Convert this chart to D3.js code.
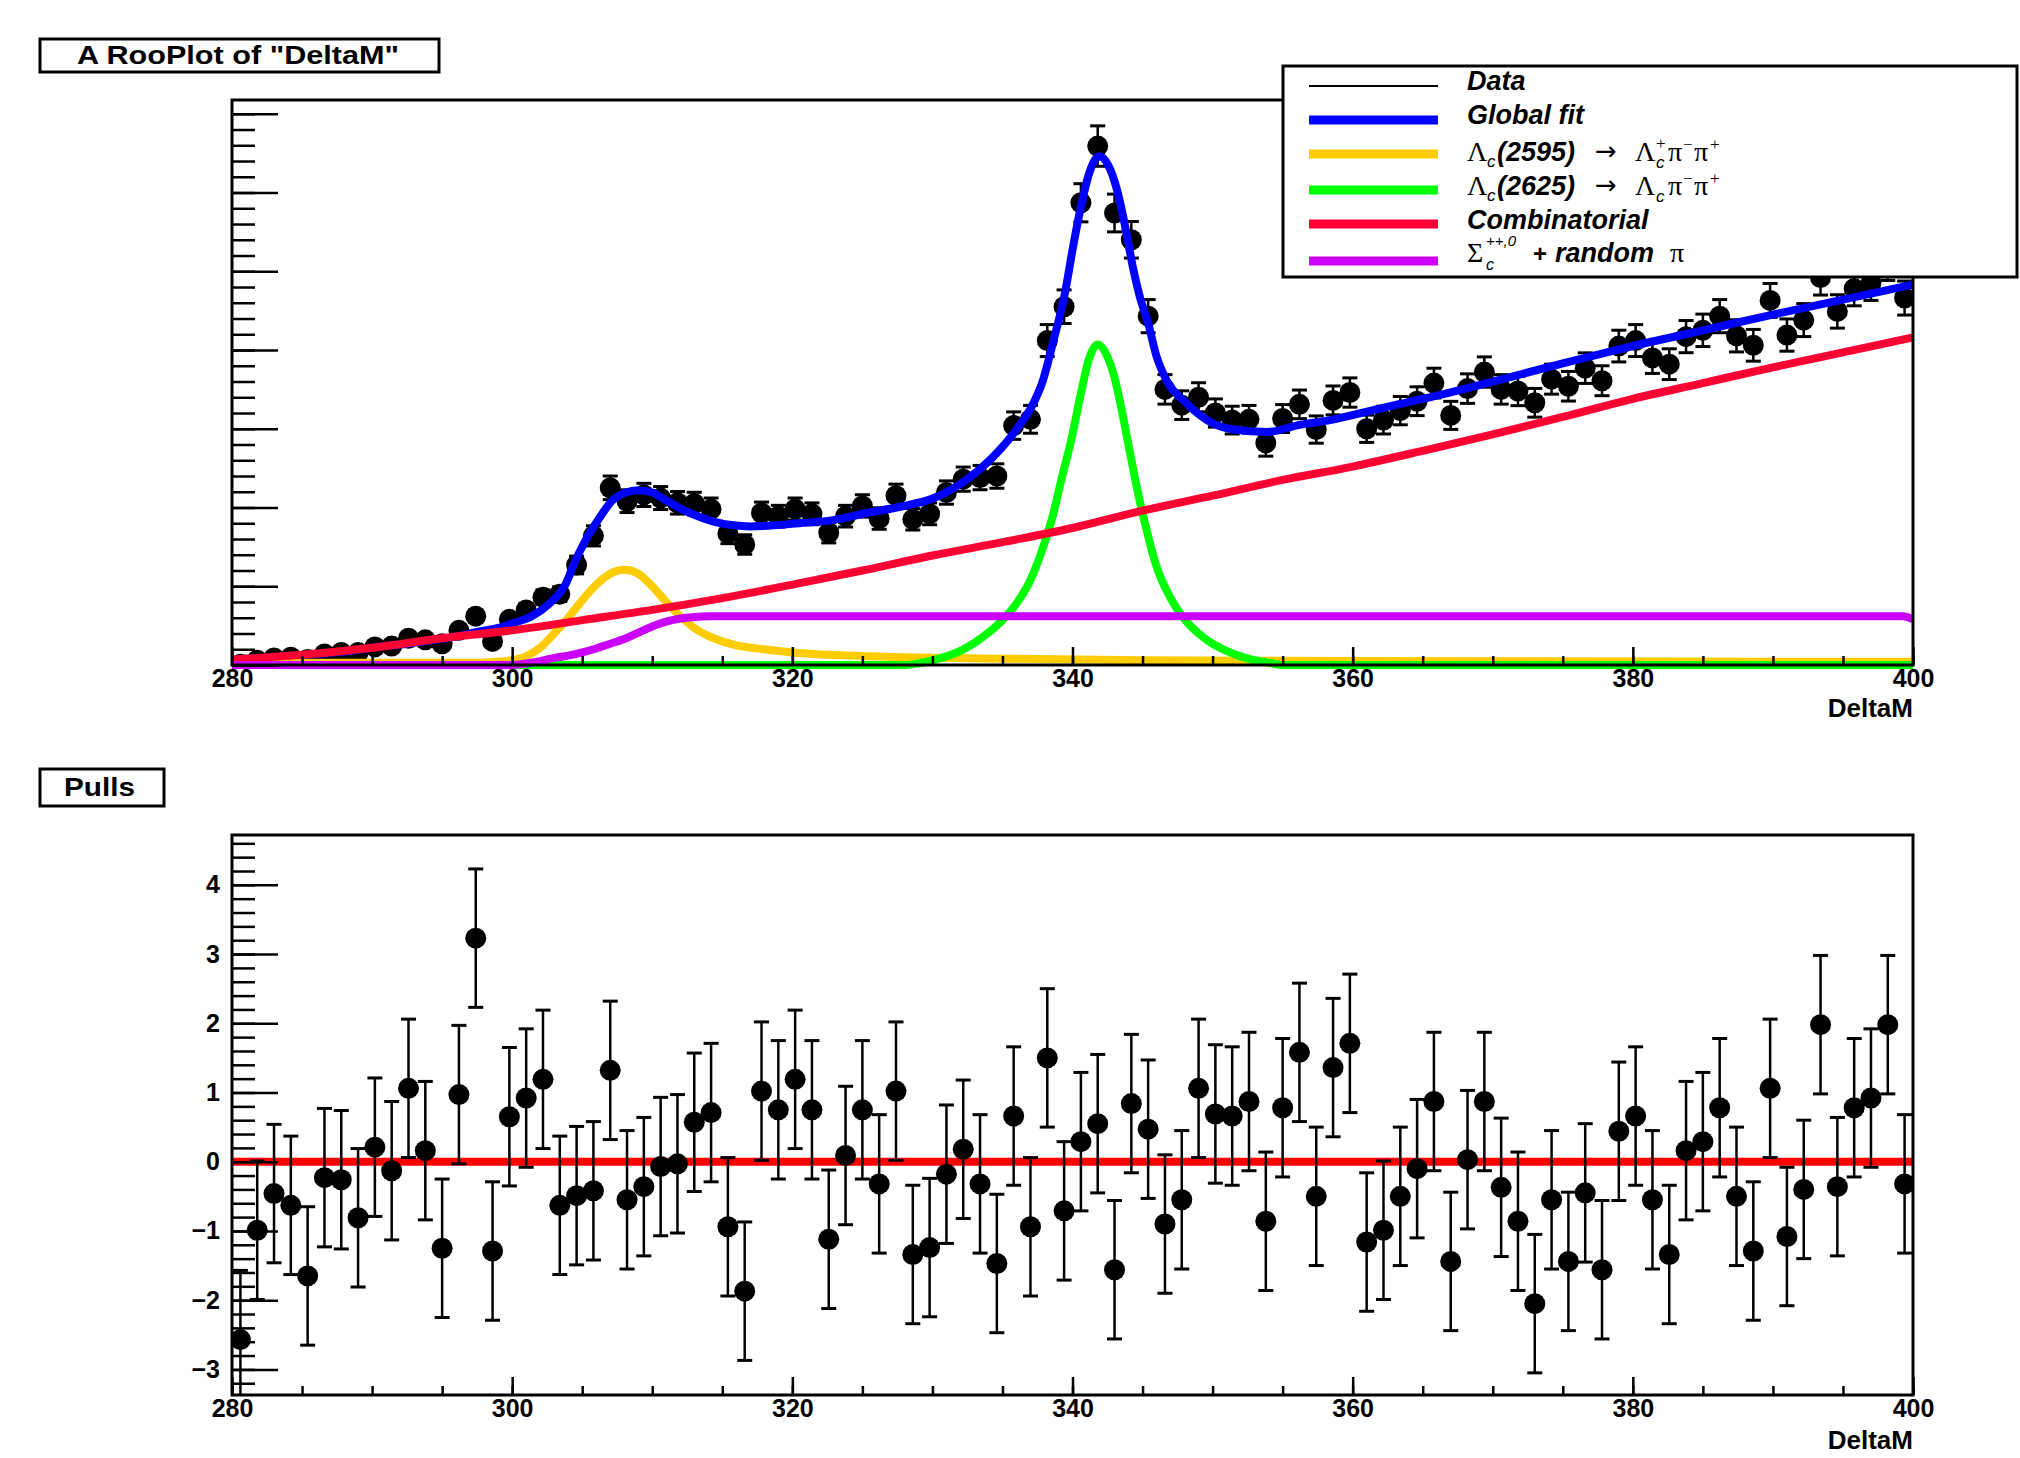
<!DOCTYPE html>
<html>
<head>
<meta charset="utf-8">
<title>A RooPlot of "DeltaM"</title>
<script src="https://d3js.org/d3.v7.min.js"></script>
<style>
  body { margin: 0; background: #fff; }
  svg { display: block; background: #fff; }
  .lbl { font-family: "Liberation Sans", Arial, sans-serif; font-weight: bold; fill: #000; }
  .leg { font-family: "Liberation Sans", Arial, sans-serif; font-style: italic; font-weight: bold; fill: #000; }
  .legs { font-family: "Liberation Sans", Arial, sans-serif; font-style: italic; fill: #000; }
  .sym { font-family: "Liberation Serif", "DejaVu Serif", serif; fill: #000; }
  .arr { font-family: "DejaVu Sans", sans-serif; fill: #000; }
  .tick line { stroke: #000; stroke-width: 2.5; }
</style>
</head>
<body>
<script>
var width = 2020, height = 1458;

// histogram binning of DeltaM
var xMin = 280, xMax = 400, binWidth = 1.2;

// events per bin (100 bins)
var dataCounts = [
  1, 6, 9, 10, 7, 14, 16, 16, 23, 24,
  34, 32, 27, 44, 62, 30, 58, 70, 86, 90,
  127, 164, 225, 208, 216, 212, 206, 205, 198, 167,
  153, 193, 189, 198, 192, 168, 189, 202, 186, 215,
  185, 192, 219, 236, 238, 240, 304, 312, 412, 455,
  587, 659, 574, 540, 443, 350, 330, 340, 320, 311,
  312, 282, 313, 331, 299, 336, 346, 300, 311, 323,
  335, 358, 317, 351, 372, 350, 348, 333, 363, 354,
  377, 361, 405, 412, 390, 382, 417, 425, 443, 418,
  406, 463, 419, 438, 492, 449, 478, 485, 511, 466
];

// pull per bin
var pulls = [
  -2.57, -0.99, -0.46, -0.63, -1.65, -0.23, -0.26, -0.81, 0.21, -0.13,
  1.06, 0.16, -1.25, 0.97, 3.23, -1.29, 0.65, 0.92, 1.19, -0.63,
  -0.49, -0.42, 1.32, -0.55, -0.36, -0.07, -0.03, 0.57, 0.71, -0.94,
  -1.87, 1.02, 0.75, 1.19, 0.75, -1.12, 0.09, 0.75, -0.32, 1.02,
  -1.34, -1.24, -0.18, 0.18, -0.32, -1.47, 0.66, -0.94, 1.50, -0.71,
  0.29, 0.55, -1.56, 0.84, 0.47, -0.90, -0.55, 1.06, 0.69, 0.66,
  0.87, -0.86, 0.78, 1.58, -0.50, 1.36, 1.71, -1.16, -0.99, -0.50,
  -0.10, 0.87, -1.44, 0.03, 0.87, -0.37, -0.86, -2.05, -0.55, -1.44,
  -0.45, -1.56, 0.44, 0.66, -0.55, -1.34, 0.16, 0.29, 0.78, -0.50,
  -1.29, 1.06, -1.08, -0.40, 1.98, -0.36, 0.78, 0.92, 1.98, -0.32
];

// fitted curves, [DeltaM, events]
var globalFit = [[280,7],[282,9],[284,11],[286,14],[288,17],[290,22],[292,26],[294,31],[296,36],[297.5,42],
  [299,47],[300.2,54],[301.4,62],[302.6,77],[303.8,102],[304.5,132],[305.2,157],[306.2,186],[307.1,208],
  [308.1,219],[309,222],[310,219],[310.9,210],[312.2,197],[313.4,188],[314.6,181],[317,176],[320.5,180],
  [322.9,184],[325.3,193],[327.7,201],[330.1,212],[332.4,235],[334.8,273],[336,299],[337.2,332],[337.9,362],
  [338.6,409],[339.5,476],[340,527],[340.6,582],[341.2,625],[341.9,646],[342.7,629],[343.3,595],[343.9,544],
  [344.3,506],[344.8,468],[345.4,434],[346,392],[346.7,362],[348.1,333],[349.6,311],[351.5,299],[353.9,296],
  [356.2,305],[358.4,311],[362,326],[366,342],[370,360],[375,383],[380,405],[385,425],[390,445],[395,464],[400,483]];

var lambda2595 = [[280,3],[298,3],[299,4],[300,6],[301,11],[302,22],[303,40],[304,60],[305,82],[306,102],
  [307,116],[308,121],[309,116],[310,100],[311,80],[312,62],[313,47],[314,37],[315,30],[316,25],[318,20],
  [320,16],[324,12],[328,10],[335,8],[345,6],[360,5],[400,4]];

var lambda2625 = [[280,0],[328,0],[329,2],[330,6],[331,11],[332,18],[333,28],[334,41],[335,57],[336,78],
  [337,108],[338,155],[338.6,190],[339.2,235],[339.9,285],[340.6,345],[341.2,390],[341.8,407],[342.4,395],
  [343,365],[343.5,325],[344.1,270],[344.6,225],[345.2,178],[346,125],[347,85],[348,58],[349,40],[350,27],
  [351,18],[352,11],[353,6],[354,3],[355,0],[400,0]];

var combinatorial = [[280,7],[285,13],[290,22],[295,34],[300,44],[305,57],[310,70],[315,85],[320,102],
  [325,120],[330,139],[335,156],[340,174],[345,196],[350,215],[355,235],[360,252],[365,272],[370,293],
  [375,315],[380,338],[385,358],[390,378],[395,397],[400,416]];

var sigmaRandomPi = [[280,0],[300,0],[301,2],[302,5],[303,9],[304,12],[305,16],[306,21],[307,27],[308,33],
  [309,41],[310,49],[311,55],[312,59],[313,61],[314,62],[399.3,62],[400,58]];

// axis ticks
var xMajor = [280, 300, 320, 340, 360, 380, 400];
var yTopMajor = [0, 100, 200, 300, 400, 500, 600, 700];
var pullMajor = [-3, -2, -1, 0, 1, 2, 3, 4];

var svg = d3.select("body").append("svg")
  .attr("width", width).attr("height", height);

svg.append("rect").attr("width", width).attr("height", height).attr("fill", "#fff");

var x = d3.scaleLinear().domain([xMin, xMax]).range([232, 1913]);
var yTop = d3.scaleLinear().domain([0, 717.5]).range([665, 100]);
var yPull = d3.scaleLinear().domain([-3.37, 4.72]).range([1395, 835]);

var binCenters = dataCounts.map(function(d, i) { return xMin + binWidth * (i + 0.5); });

var defs = svg.append("defs");
defs.append("clipPath").attr("id", "clipTop").append("rect")
  .attr("x", x(xMin)).attr("y", yTop.range()[1])
  .attr("width", x(xMax) - x(xMin)).attr("height", yTop.range()[0] - yTop.range()[1] + 4);
defs.append("clipPath").attr("id", "clipPull").append("rect")
  .attr("x", x(xMin)).attr("y", yPull.range()[1])
  .attr("width", x(xMax) - x(xMin)).attr("height", yPull.range()[0] - yPull.range()[1]);

// ---------- top panel ----------
var topPanel = svg.append("g");
var topPlot = topPanel.append("g").attr("clip-path", "url(#clipTop)");

function errorBars(g, xs, ys, lo, hi, yScale) {
  var cap = 7.5;
  xs.forEach(function(cx, i) {
    var px = x(cx), py = yScale(ys[i]);
    g.append("line").attr("x1", px).attr("x2", px)
      .attr("y1", yScale(lo[i])).attr("y2", yScale(hi[i]))
      .attr("stroke", "#000").attr("stroke-width", 2.5);
    [lo[i], hi[i]].forEach(function(v) {
      g.append("line").attr("x1", px - cap).attr("x2", px + cap)
        .attr("y1", yScale(v)).attr("y2", yScale(v))
        .attr("stroke", "#000").attr("stroke-width", 3);
    });
    g.append("line").attr("x1", x(cx - binWidth / 2)).attr("x2", x(cx + binWidth / 2))
      .attr("y1", py).attr("y2", py).attr("stroke", "#000").attr("stroke-width", 2.5);
  });
  g.selectAll(null).data(xs).enter().append("circle")
    .attr("cx", function(d) { return x(d); })
    .attr("cy", function(d, i) { return yScale(ys[i]); })
    .attr("r", 10.5).attr("fill", "#000");
}

errorBars(topPlot, binCenters, dataCounts,
  dataCounts.map(function(n) { return Math.max(0, n - Math.sqrt(n)); }),
  dataCounts.map(function(n) { return n + Math.sqrt(n); }), yTop);

var curve = d3.line()
  .x(function(d) { return x(d[0]); })
  .y(function(d) { return yTop(d[1]); })
  .curve(d3.curveMonotoneX);

var curves = [
  [globalFit, "#0000ff"],
  [lambda2595, "#ffcc00"],
  [lambda2625, "#00ff00"],
  [combinatorial, "#ff0033"],
  [sigmaRandomPi, "#cc00ff"]
];
curves.forEach(function(c) {
  topPlot.append("path").datum(c[0]).attr("d", curve)
    .attr("fill", "none").attr("stroke", c[1]).attr("stroke-width", 8)
    .attr("stroke-linejoin", "round");
});

function frame(g, yScale) {
  g.append("rect")
    .attr("x", x(xMin)).attr("y", yScale.range()[1])
    .attr("width", x(xMax) - x(xMin)).attr("height", yScale.range()[0] - yScale.range()[1])
    .attr("fill", "none").attr("stroke", "#000").attr("stroke-width", 3);
}

function xAxis(g, y0, labelY) {
  var minor = g.append("g").attr("transform", "translate(0," + y0 + ")")
    .call(d3.axisBottom(x).tickValues(d3.range(xMin, xMax + 0.1, 5)).tickSize(-9).tickFormat(""));
  var major = g.append("g").attr("transform", "translate(0," + y0 + ")")
    .call(d3.axisBottom(x).tickValues(xMajor).tickSize(-18).tickPadding(4).tickFormat(d3.format("d")));
  minor.select(".domain").remove();
  major.select(".domain").remove();
  major.selectAll("text").attr("class", "lbl").style("font-size", "25px");
  g.append("text").attr("class", "lbl").attr("x", x(xMax)).attr("y", labelY)
    .attr("text-anchor", "end").style("font-size", "26px").text("DeltaM");
}

frame(topPanel, yTop);
var tyMinor = topPanel.append("g").attr("transform", "translate(" + x(xMin) + ",0)")
  .call(d3.axisLeft(yTop).tickValues(d3.range(0, 717, 20)).tickSize(-23).tickFormat(""));
var tyMajor = topPanel.append("g").attr("transform", "translate(" + x(xMin) + ",0)")
  .call(d3.axisLeft(yTop).tickValues(yTopMajor).tickSize(-46).tickFormat(""));
tyMinor.select(".domain").remove();
tyMajor.select(".domain").remove();
xAxis(topPanel, yTop.range()[0], 717);

// title box
svg.append("rect").attr("x", 40).attr("y", 39).attr("width", 399).attr("height", 33)
  .attr("fill", "#fff").attr("stroke", "#000").attr("stroke-width", 3);
svg.append("text").attr("class", "lbl").attr("x", 77).attr("y", 64)
  .style("font-size", "26px").attr("textLength", 322).attr("lengthAdjust", "spacingAndGlyphs")
  .text('A RooPlot of "DeltaM"');

// ---------- legend ----------
var legX = 1467;
var leg = svg.append("g");
leg.append("rect").attr("x", 1283).attr("y", 66).attr("width", 734).attr("height", 211)
  .attr("fill", "#fff").attr("stroke", "#000").attr("stroke-width", 3);

var legendLines = [
  [86, "#000", 2], [120, "#0000ff", 9], [154, "#ffcc00", 9],
  [190, "#00ff00", 9], [224, "#ff0033", 9], [261, "#cc00ff", 9]
];
legendLines.forEach(function(l) {
  leg.append("line").attr("x1", 1309).attr("x2", 1438).attr("y1", l[0]).attr("y2", l[0])
    .attr("stroke", l[1]).attr("stroke-width", l[2]);
});

function piece(txt, dx, y, cls, size) {
  leg.append("text").attr("x", legX + dx).attr("y", y).attr("class", cls)
    .style("font-size", size + "px").text(txt);
}

piece("Data", 0, 90, "leg", 27);
piece("Global fit", 0, 124, "leg", 27);

function lambdaRow(b, mass, plusOnTop) {
  piece("\u039B", 0, b, "sym", 28);
  piece("c", 20, b + 6, "legs", 17);
  piece("(" + mass + ")", 30, b, "leg", 27);
  piece("\u2192", 128, b - 1, "arr", 26);
  piece("\u039B", 168, b, "sym", 28);
  if (plusOnTop) piece("+", 189, b - 12, "sym", 17);
  piece("c", 189, b + 7, "legs", 17);
  piece("\u03C0", 201, b, "sym", 28);
  piece("\u2212", 216, b - 11, "sym", 17);
  piece("\u03C0", 227, b, "sym", 28);
  piece("+", 243, b - 11, "sym", 17);
}
lambdaRow(161, "2595", true);
lambdaRow(195, "2625", false);

piece("Combinatorial", 0, 229, "leg", 27);

piece("\u03A3", 0, 262, "sym", 28);
piece("++,0", 19, 246, "legs", 15);
piece("c", 19, 270, "legs", 16);
piece("+", 66, 262, "lbl", 24);
piece("random", 88, 262, "leg", 27);
piece("\u03C0", 203, 262, "sym", 28);

// ---------- pull panel ----------
var bottomPanel = svg.append("g");
var pullPlot = bottomPanel.append("g").attr("clip-path", "url(#clipPull)");

pullPlot.append("line")
  .attr("x1", x(xMin)).attr("x2", x(xMax))
  .attr("y1", yPull(0)).attr("y2", yPull(0))
  .attr("stroke", "#ff0000").attr("stroke-width", 8);

errorBars(pullPlot, binCenters, pulls,
  pulls.map(function(p) { return p - 1; }),
  pulls.map(function(p) { return p + 1; }), yPull);

frame(bottomPanel, yPull);
var pyMinor = bottomPanel.append("g").attr("transform", "translate(" + x(xMin) + ",0)")
  .call(d3.axisLeft(yPull).tickValues(d3.range(-16, 24).map(function(i) { return i / 5; }))
    .tickSize(-23).tickFormat(""));
var pyMajor = bottomPanel.append("g").attr("transform", "translate(" + x(xMin) + ",0)")
  .call(d3.axisLeft(yPull).tickValues(pullMajor).tickSize(-46).tickPadding(12)
    .tickFormat(function(d) { return d < 0 ? "\u2212" + Math.abs(d) : String(d); }));
pyMinor.select(".domain").remove();
pyMajor.select(".domain").remove();
pyMajor.selectAll("text").attr("class", "lbl").style("font-size", "25px");
xAxis(bottomPanel, yPull.range()[0], 1449);

svg.append("rect").attr("x", 40).attr("y", 769).attr("width", 124).attr("height", 37)
  .attr("fill", "#fff").attr("stroke", "#000").attr("stroke-width", 3);
svg.append("text").attr("class", "lbl").attr("x", 64).attr("y", 796)
  .style("font-size", "26px").attr("textLength", 71).attr("lengthAdjust", "spacingAndGlyphs")
  .text("Pulls");
</script>
</body>
</html>
